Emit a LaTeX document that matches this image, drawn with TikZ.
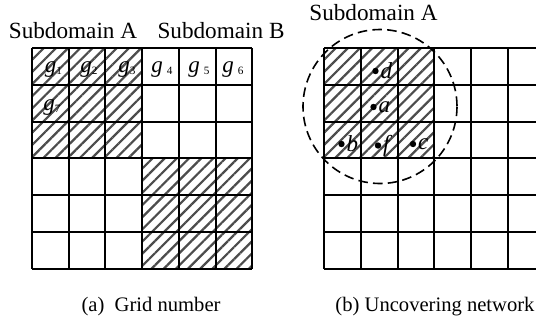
\documentclass[tikz,border=0pt]{standalone}
\usepackage{fontspec}
\setmainfont{Liberation Serif}
\usetikzlibrary{patterns.meta}
\newcommand{\gno}[2][0pt]{\textit{g}\hspace{#1}\raisebox{-1pt}{\fontsize{5.6}{6}\selectfont #2}}
\begin{document}
\begin{tikzpicture}[
      x=0.5pt, y=-0.5pt,
      gridline/.style={line width=1pt},
      hatch/.style={pattern={Lines[angle=45, distance=4.3pt, line width=1.1pt]},
        pattern color=black!70},
      domlabel/.style={anchor=base, font=\fontsize{11.6}{13}\selectfont},
      cellno/.style={anchor=base, inner sep=0pt, font=\fontsize{11.5}{13}\selectfont},
      caption/.style={anchor=base, font=\fontsize{10.3}{12}\selectfont},
      sensor/.style={circle, fill=black, inner sep=0pt, minimum size=3.2pt},
      sensorname/.style={inner sep=0.6pt, font=\fontsize{11.5}{13}\selectfont\itshape},
      cover/.style={dash pattern=on 4.8pt off 2.6pt, line width=0.8pt}
    ]
    \useasboundingbox (0,0) rectangle (536,323);
    \clip (0,0) rectangle (536,323);

    % (a) Grid number
    \fill[hatch] (32,48.3) rectangle (142.1,158.4);
    \fill[hatch] (142.1,158.4) rectangle (252.2,268.5);
    \foreach \i in {0,...,6} {
      \draw[gridline] ({32+36.7*\i},48.3) -- ({32+36.7*\i},268.5);
      \draw[gridline] (32,{48.3+36.7*\i}) -- (252.2,{48.3+36.7*\i});
    }
    \node[domlabel] (subA) at (73,38) {Subdomain A};
    \node[domlabel] (subB) at (221,38) {Subdomain B};
    \node[cellno] (g1) at (53.5,72) {\gno{1}};
    \node[cellno] (g2) at (89,72) {\gno{2}};
    \node[cellno] (g3) at (127,72) {\gno{3}};
    \node[cellno] (g4) at (162,72) {\gno[2pt]{4}};
    \node[cellno] (g5) at (199,72) {\gno[2pt]{5}};
    \node[cellno] (g6) at (233,72) {\gno[2pt]{6}};
    \node[cellno] (g7) at (52,110) {\gno{7}};
    \node[caption] (capa) at (151,311.5) {(a)\ \ Grid number};

    % (b) Uncovering network
    \fill[hatch] (324.3,48.3) rectangle (434.4,158.4);
    \foreach \i in {0,...,6} {
      \draw[gridline] ({324.3+36.7*\i},48.3) -- ({324.3+36.7*\i},268.5);
      \draw[gridline] (324.3,{48.3+36.7*\i}) -- (544.5,{48.3+36.7*\i});
    }
    \node[domlabel] (subA2) at (373.5,20) {Subdomain A};
    \node[sensor, label={[sensorname]right:d}] (d) at (375.5,71) {};
    \node[sensor, label={[sensorname]right:a}] (a) at (373.5,107) {};
    \node[sensor, label={[sensorname]right:b}] (b) at (341.5,144) {};
    \node[sensor, label={[sensorname]right:f}] (f) at (378,145.5) {};
    \node[sensor, label={[sensorname]right:c}] (c) at (413,144) {};
    \coordinate (centre) at (380,106.5);
    \draw[cover] (centre) circle[radius=77];
    \node[caption] (capb) at (435,311.5) {(b) Uncovering network};
  \end{tikzpicture}
\end{document}
